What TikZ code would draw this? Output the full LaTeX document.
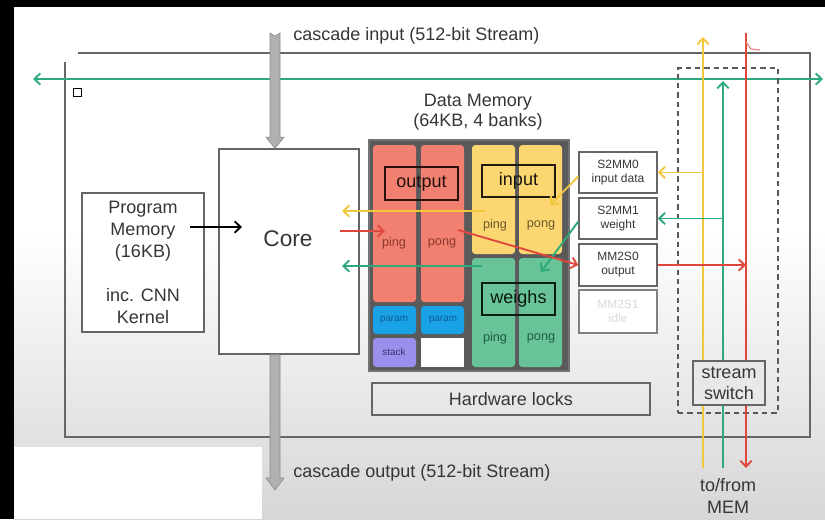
\documentclass[tikz,border=0pt]{standalone}
\usepackage{fontspec}
\setmainfont{Liberation Sans}
\usetikzlibrary{arrows.meta,calc}

\definecolor{ink}{HTML}{363636}
\definecolor{frame}{HTML}{666666}
\definecolor{bank}{HTML}{5A5A5A}
\definecolor{redcell}{HTML}{F28070}
\definecolor{yelcell}{HTML}{FCD670}
\definecolor{grncell}{HTML}{68C498}
\definecolor{bluecell}{HTML}{1AA2E6}
\definecolor{purcell}{HTML}{9A8FEA}
\definecolor{redtxt}{HTML}{8A3A30}
\definecolor{yeltxt}{HTML}{6A5A30}
\definecolor{grntxt}{HTML}{1E5E40}
\definecolor{bluetxt}{HTML}{0B5C92}
\definecolor{purtxt}{HTML}{3A3272}
\definecolor{ylw}{HTML}{F2C83A}
\definecolor{grn}{HTML}{2EA97C}
\definecolor{rd}{HTML}{E0463B}
\definecolor{busc}{HTML}{B0B0B0}
\definecolor{busedge}{HTML}{8C8C8C}

\begin{document}
\begin{tikzpicture}[x=0.75pt,y=-0.75pt,
  every node/.style={text=ink, inner sep=0pt},
  wh/.style 2 args={minimum width=#1*0.75pt, minimum height=#2*0.75pt},
  box/.style={draw=frame, line width=1.1pt, fill=white},
  outline/.style={draw=frame, line width=1.1pt},
  cell/.style={fill=#1, rounded corners=2.5pt},
  tag/.style={draw=#1, line width=1.1pt},
  flow/.style={line width=1.4pt, -{Straight Barb[length=4.5pt,width=8.5pt]}},
  big/.style={font=\fontsize{13.5}{15.5}\selectfont},
  core font/.style={font=\fontsize{17}{20}\selectfont},
  lbl/.style={font=\fontsize{9.5}{11}\selectfont},
  tiny/.style={font=\fontsize{7.4}{9}\selectfont},
  dma/.style={font=\fontsize{9}{10.5}\selectfont, align=center},
  bus/.style={fill=busc, draw=busedge, line width=0.5pt}]

% backdrop: dark border strips and a soft grey fade towards the bottom
\fill[black] (0,0) rectangle (825,519);
\fill[white] (14,7) rectangle (825,230);
\shade[top color=white, bottom color=black!16] (14,230) rectangle (825,519);
\fill[white] (14,447) rectangle (262,519);
\useasboundingbox (0,0) rectangle (825,519);

% tile outline
\draw[frame, line width=1.1pt] (78,53) -- (810,53) -- (810,437) -- (65,437) -- (65,62);
\node[draw=black, line width=0.5pt, minimum size=6pt] (mark) at (77,92) {};

% horizontal stream passing through the tile
\coordinate (gwest) at (33,79);
\coordinate (geast) at (823,79);
\draw[grn, line width=1.4pt, {Straight Barb[length=4.5pt,width=8.5pt]}-{Straight Barb[length=4.5pt,width=8.5pt]}] (gwest) -- (geast);

% program memory and core
\node[box, wh={122}{139}, align=center, font=\fontsize{13.5}{16.5}\selectfont] (pm) at (143,262.5)
  {Program\\Memory\\(16KB)\\[16.5pt]inc. CNN\\Kernel};
\node[box, wh={140}{205}] (core) at (289,251.5) {};
\node[core font] (coretext) at (288,239) {Core};

\coordinate (pmout) at (190,227);
\coordinate (corein) at (242,227);
\draw[black, flow] (pmout) -- (corein);

% cascade streams
\coordinate (cin) at (275,33);
\coordinate (cinT) at (cin |- core.north);
\coordinate (coutS) at (cin |- core.south);
\coordinate (cout) at (275,490);
\filldraw[bus] ($(cin)+(-5,0)$) -- ($(cin)+(0,3)$) -- ($(cin)+(5,0)$) -- ($(cinT)+(5,-11)$) -- ($(cinT)+(9,-11)$)
  -- (cinT) -- ($(cinT)+(-9,-11)$) -- ($(cinT)+(-5,-11)$) -- cycle;
\filldraw[bus] ($(coutS)+(-5,0)$) -- ($(coutS)+(5,0)$) -- ($(cout)+(5,-12)$) -- ($(cout)+(9,-12)$)
  -- (cout) -- ($(cout)+(-9,-12)$) -- ($(cout)+(-5,-12)$) -- cycle;
\node[big, anchor=west] (cintext) at (293,36) {cascade input (512-bit Stream)};
\node[big, anchor=west] (couttext) at (293,473) {cascade output (512-bit Stream)};

% data memory banks
\node[align=center, font=\fontsize{13.5}{15}\selectfont] (dmtitle) at (478,112) {Data Memory\\(64KB, 4 banks)};
\node[fill=bank, draw=black!55, line width=1pt, wh={200}{231}] (dm) at (469,255.5) {};
\node[cell=redcell, wh={43}{157}] (rping) at (394.5,223.5) {};
\node[cell=redcell, wh={43}{157}] (rpong) at (442.5,223.5) {};
\node[cell=yelcell, wh={43}{109}] (yping) at (493.5,199.5) {};
\node[cell=yelcell, wh={43}{109}] (ypong) at (540.5,199.5) {};
\node[cell=grncell, wh={43}{109}] (gping) at (493.5,312.5) {};
\node[cell=grncell, wh={43}{109}] (gpong) at (540.5,312.5) {};
\node[cell=bluecell, wh={43}{28}] (par1) at (394.5,320) {};
\node[cell=bluecell, wh={43}{28}] (par2) at (442.5,320) {};
\node[cell=purcell, wh={43}{29}] (stk) at (394.5,352.5) {};
\node[fill=white, wh={43}{29}] (spare) at (442.5,352.5) {};

\node[tag=black!70!redtxt, wh={73}{33}, big, text=black!75!redtxt] (outtag) at (421.5,183.5) {output};
\node[tag=black!70!yeltxt, wh={73}{32}, big, text=black!75!yeltxt] (intag) at (518.5,181) {input};
\node[tag=black!70!grntxt, wh={73}{32}, big, text=black!75!grntxt] (wtag) at (518.5,299) {weighs};

\node[lbl, text=redtxt] (rpingl) at (394,243) {ping};
\node[lbl, text=redtxt] (rpongl) at (442,243) {pong};
\node[lbl, text=yeltxt] (ypingl) at (495,225) {ping};
\node[lbl, text=yeltxt] (ypongl) at (541,225) {pong};
\node[lbl, text=grntxt] (gpingl) at (495,338) {ping};
\node[lbl, text=grntxt] (gpongl) at (541,338) {pong};
\node[tiny, text=bluetxt] (par1l) at (394,320) {param};
\node[tiny, text=bluetxt] (par2l) at (443,320) {param};
\node[tiny, text=purtxt] (stkl) at (394,352) {stack};

\node[outline, wh={278}{32}, big] (hwl) at (511,399) {Hardware locks};

% DMA channels
\node[box, dma, wh={78}{41}] (s2mm0) at (618,172.5) {S2MM0\\input data};
\node[box, dma, wh={78}{41}] (s2mm1) at (618,218.5) {S2MM1\\weight};
\node[box, dma, wh={78}{42}] (mm2s0) at (618,265) {MM2S0\\output};
\node[box, dma, draw=black!50, text=black!15, wh={78}{43}] (mm2s1) at (618,311.5) {MM2S1\\idle};

% stream switch region
\node[draw=black!65, line width=1.1pt, dash pattern=on 4pt off 3pt, wh={100}{345}] (ssw) at (728,240.5) {};

\coordinate (ytop) at (703,37);
\coordinate (ybot) at (703,468);
\coordinate (gtop) at (723,81);
\coordinate (gbot) at (723,468);
\coordinate (rtop) at (746,33);
\coordinate (rbot) at (746,468);
\draw[ylw, flow] (ybot) -- (ytop);
\draw[grn, flow] (gbot) -- (gtop);
\draw[rd, flow] (rtop) -- (rbot);
\draw[rd!65, line width=0.9pt] (746,42) -- (751,49) -- (760,50);

\node[box, fill=black!9, wh={72}{44}, align=center, font=\fontsize{13.5}{15.75}\selectfont] (sswbox) at (729,383) {stream\\switch};
\node[align=center, font=\fontsize{13.5}{16.5}\selectfont] (mem) at (728,496) {to/from\\MEM};

% streams to and from the DMA channels
\draw[ylw, flow] (s2mm0.east -| ytop) -- (s2mm0.east);
\draw[grn, flow] (s2mm1.east -| gtop) -- (s2mm1.east);
\draw[rd, flow] (mm2s0.east) -- (mm2s0.east -| rtop);

\coordinate (yin) at (550,205);
\coordinate (gin) at (541,272);
\coordinate (rout) at (458,230);
\draw[ylw, flow] ($(s2mm0.west)+(0,4)$) -- (yin);
\draw[grn, flow] ($(s2mm1.west)+(0,3)$) -- (gin);
\draw[rd, flow] (rout) -- (mm2s0.west);

% core load / store paths
\coordinate (ysrc) at (485,211);
\coordinate (ydst) at (342,211);
\coordinate (rsrc) at (340,231);
\coordinate (rdst) at (385,231);
\coordinate (gsrc) at (482,266);
\coordinate (gdst) at (342,266);
\draw[ylw, flow] (ysrc) -- (ydst);
\draw[rd, flow] (rsrc) -- (rdst);
\draw[grn, flow] (gsrc) -- (gdst);

\end{tikzpicture}
\end{document}
